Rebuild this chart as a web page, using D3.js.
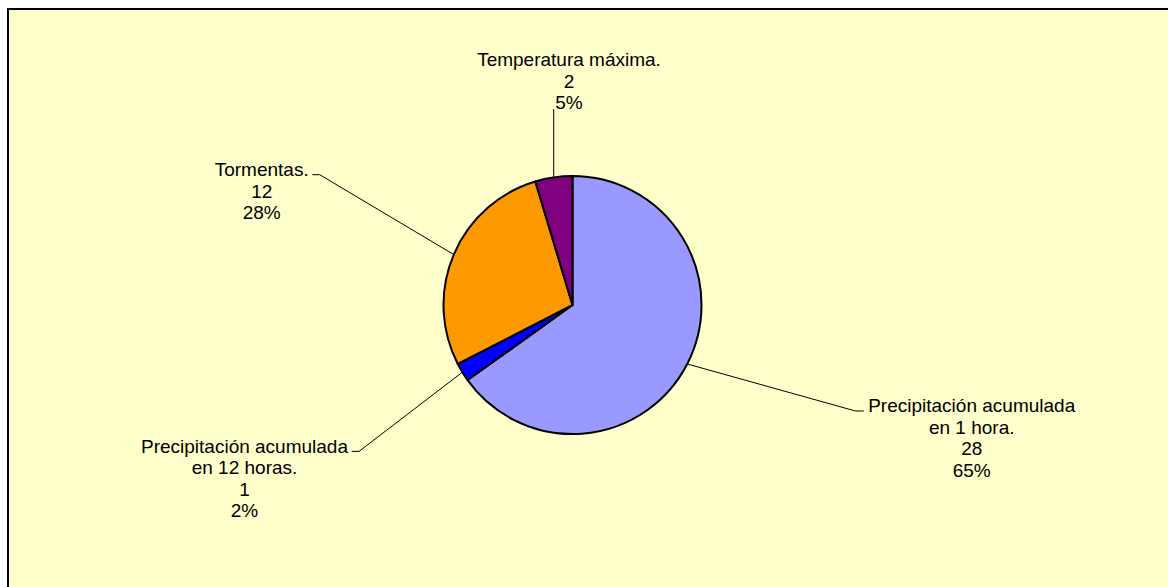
<!DOCTYPE html>
<html>
<head>
<meta charset="utf-8">
<script src="https://cdn.jsdelivr.net/npm/d3@7"></script>
<style>
  html, body { margin: 0; padding: 0; background: #ffffff; }
  svg { display: block; }
  text { font-family: "Liberation Sans", Arial, sans-serif; font-size: 19px; fill: #000; }
</style>
</head>
<body>
<svg id="chart" width="1168" height="587"></svg>
<script>
// Event counts by alert type
const categories = [
  "Precipitación acumulada en 1 hora.",
  "Precipitación acumulada en 12 horas.",
  "Tormentas.",
  "Temperatura máxima."
];
const values = [28, 1, 12, 2];
const colors = ["#9999FF", "#0000FF", "#FF9900", "#800080"];

// Label placement: centre x and first baseline y, and which side the leader comes from
const labelLayout = [
  { x: 971.7, y: 412.3, side: "right" },
  { x: 244.5, y: 452.7, side: "left" },
  { x: 261.7, y: 176.0, side: "left" },
  { x: 569.0, y: 66.0,  side: "top" }
];

const W = 1168, H = 587;
const cx = 572.5, cy = 305, R = 129;
const lineH = 21.5, wrapWidth = 220;

const svg = d3.select("#chart");

// Plot area
svg.append("rect")
  .attr("x", 8).attr("y", 9)
  .attr("width", W + 10).attr("height", H + 10)
  .attr("fill", "#FFFFCC")
  .attr("stroke", "#000").attr("stroke-width", 2);

const total = d3.sum(values);
const pie = d3.pie().sort(null).value(d => d)(values);
const arc = d3.arc().innerRadius(0).outerRadius(R);
const edge = d3.arc().innerRadius(R).outerRadius(R);

const g = svg.append("g").attr("transform", `translate(${cx},${cy})`);
g.selectAll("path.slice")
  .data(pie)
  .join("path")
  .attr("class", "slice")
  .attr("d", arc)
  .attr("fill", (d, i) => colors[i])
  .attr("stroke", "#000")
  .attr("stroke-width", 2)
  .attr("stroke-linejoin", "round");

// Split a name into lines no wider than wrapWidth
const measurer = svg.append("text").attr("visibility", "hidden");
function textWidth(s) { measurer.text(s); return measurer.node().getComputedTextLength(); }
function wrap(name) {
  const words = name.split(" ");
  const lines = [];
  let cur = "";
  words.forEach(w => {
    const t = cur ? cur + " " + w : w;
    if (cur && textWidth(t) > wrapWidth) { lines.push(cur); cur = w; }
    else cur = t;
  });
  if (cur) lines.push(cur);
  return lines;
}

const leaders = svg.append("g");
const labels = svg.append("g");

pie.forEach((d, i) => {
  const L = labelLayout[i];
  const lines = wrap(categories[i]).concat([String(values[i]), Math.round(values[i] / total * 100) + "%"]);
  const t = labels.append("text").attr("text-anchor", "middle");
  lines.forEach((s, k) => {
    t.append("tspan").attr("x", L.x).attr("y", L.y + k * lineH).text(s);
  });

  const firstW = textWidth(lines[0]);
  const [ex, ey] = edge.centroid(d);
  const p0 = [cx + ex, cy + ey];
  let pts;
  if (L.side === "right") {
    const left = L.x - firstW / 2;
    const yy = L.y - 1.3;
    pts = [p0, [left - 12.7, yy], [left - 4.4, yy]];
  } else if (L.side === "left") {
    const right = L.x + firstW / 2;
    const yy = L.y - 1.3;
    pts = [p0, [right + 11, yy], [right + 3.7, yy]];
  } else {
    const lastY = L.y + (lines.length - 1) * lineH;
    pts = [p0, [p0[0], lastY]];
  }
  leaders.append("path")
    .attr("d", d3.line()(pts))
    .attr("fill", "none")
    .attr("stroke", "#000")
    .attr("stroke-width", 1);
});
measurer.remove();
</script>
</body>
</html>
